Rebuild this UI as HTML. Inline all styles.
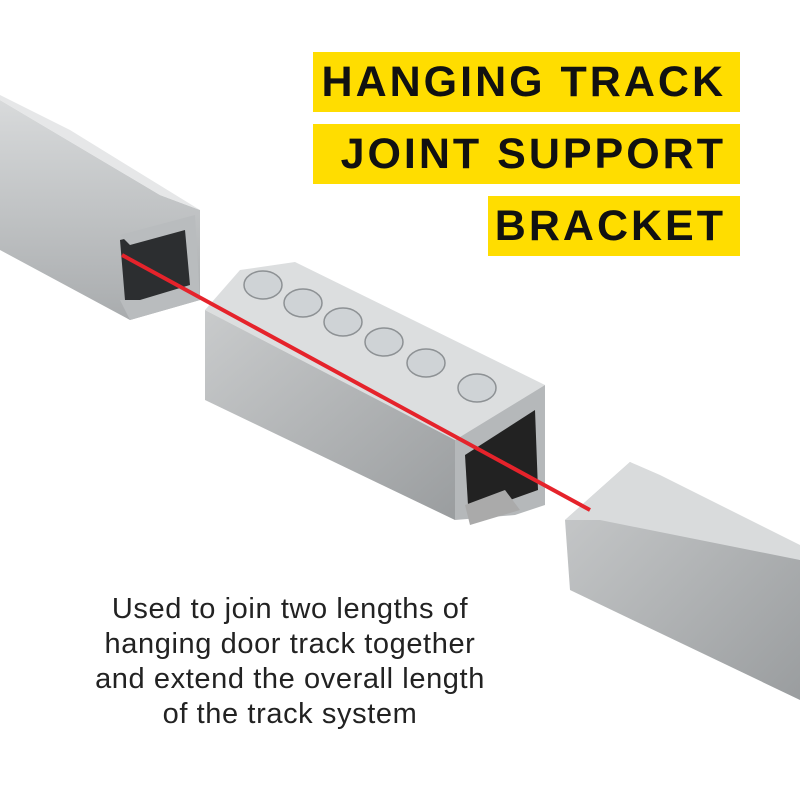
<!DOCTYPE html>
<html><head><meta charset="utf-8"><style>
body{margin:0;width:800px;height:800px;background:#fff;overflow:hidden;position:relative;font-family:"Liberation Sans",sans-serif}
.tag{position:absolute;background:#ffdd00;color:#111;font-weight:900;font-size:43px;letter-spacing:3px;line-height:60px;height:60px;text-align:right;padding-right:14px;box-sizing:border-box;right:60px;white-space:nowrap}
.cap{position:absolute;left:20px;width:540px;top:592px;text-align:center;font-size:29px;letter-spacing:0.6px;line-height:35px;color:#222}
</style></head><body>
<svg width="800" height="800" style="position:absolute;left:0;top:0">
<defs>
<linearGradient id="g1" x1="0" y1="0" x2="0" y2="1"><stop offset="0" stop-color="#d8dadb"/><stop offset="1" stop-color="#a9acae"/></linearGradient>
<linearGradient id="g2" x1="0" y1="0" x2="1" y2="1"><stop offset="0" stop-color="#c9cbcc"/><stop offset="1" stop-color="#9a9d9f"/></linearGradient>
</defs>
<polygon points="0,100 160,195 200,210 200,300 130,320 0,250" fill="url(#g1)"/>
<polygon points="0,100 160,195 200,210 70,130 0,95" fill="#e6e7e8"/>
<polygon points="120,240 185,225 195,290 150,300 125,300" fill="#2c2e30"/>
<polygon points="120,235 195,215 200,300 130,320 120,300 140,300 190,285 185,230 130,245" fill="#b9bcbe"/>
<polygon points="240,270 295,262 545,385 455,440 205,310" fill="#dcdedf"/>
<polygon points="205,310 455,440 455,520 205,400" fill="url(#g2)"/>
<polygon points="455,440 545,385 545,505 515,515 455,520" fill="#b5b8ba"/>
<polygon points="465,455 535,410 538,490 510,500 468,505" fill="#222"/>
<polygon points="465,505 505,490 520,510 470,525" fill="#aaa"/>
<polygon points="565,520 630,462 800,560 800,700 570,590" fill="url(#g2)"/>
<polygon points="565,520 630,462 660,475 800,545 800,560 600,520" fill="#d9dbdc"/>
<line x1="122" y1="255" x2="590" y2="510" stroke="#e5232b" stroke-width="4"/>
<g fill="#cfd3d6" stroke="#8d9194" stroke-width="1.5">
<ellipse cx="263" cy="285" rx="19" ry="14"/><ellipse cx="303" cy="303" rx="19" ry="14"/>
<ellipse cx="343" cy="322" rx="19" ry="14"/><ellipse cx="384" cy="342" rx="19" ry="14"/>
<ellipse cx="426" cy="363" rx="19" ry="14"/><ellipse cx="477" cy="388" rx="19" ry="14"/>
</g>
</svg>
<div class="tag" style="top:52px;width:427px">HANGING TRACK</div>
<div class="tag" style="top:124px;width:427px">JOINT SUPPORT</div>
<div class="tag" style="top:196px;width:252px">BRACKET</div>
<div class="cap">Used to join two lengths of<br>hanging door track together<br>and extend the overall length<br>of the track system</div>
</body></html>
